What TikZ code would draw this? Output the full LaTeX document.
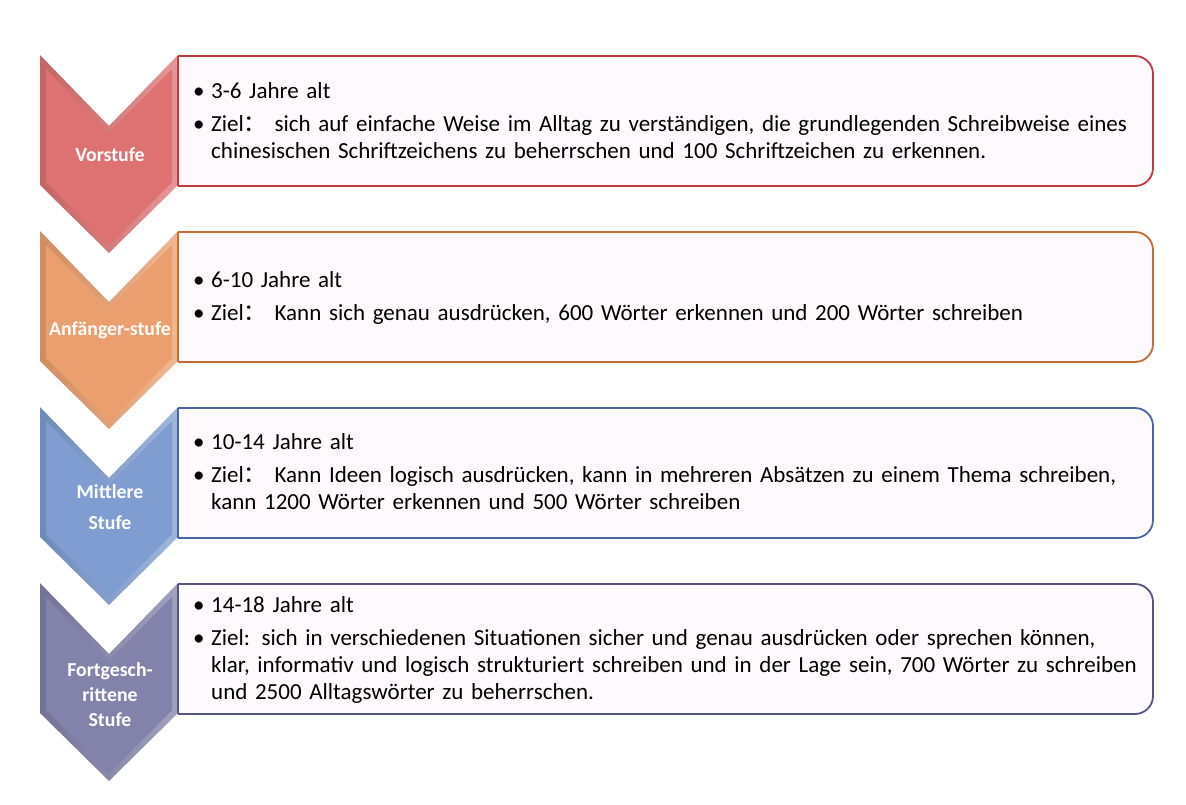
\documentclass[tikz,border=0pt]{standalone}
\usepackage{fontspec}
\setmainfont{Carlito}
\newfontfamily\cjk{Noto Sans CJK SC}

\definecolor{vorrot}{HTML}{DE7273}
\definecolor{vorrand}{HTML}{C0393F}
\definecolor{anforange}{HTML}{EC9F6E}
\definecolor{anfrand}{HTML}{C86B32}
\definecolor{mitblau}{HTML}{7F9DD1}
\definecolor{mitrand}{HTML}{4866A6}
\definecolor{fortlila}{HTML}{8282AA}
\definecolor{fortrand}{HTML}{555584}
\definecolor{boxgrund}{HTML}{FDF9FD}

% one bullet line with hanging indent
\newcommand\stpunkt[2][0pt]{\par\vspace{#1}\hangindent=18pt\hangafter=1\noindent
  \makebox[18pt][l]{\textbullet}#2\par}

\tikzset{
  stufetext/.style={text=white, align=center, inner sep=0pt,
    font=\fontsize{19.8}{#1}\selectfont\bfseries},
  zieltext/.style={anchor=west, text width=960pt, align=left, inner sep=0pt,
    font=\fontsize{23}{27}\selectfont},
}

\begin{document}
\begin{tikzpicture}[x=1pt, y=-1pt]

  \useasboundingbox (0,0) rectangle (1186,804);

  % Chevrons and boxes
  \foreach \yy/\col/\rand in {55/vorrot/vorrand, 231/anforange/anfrand,
                              407/mitblau/mitrand, 583/fortlila/fortrand} {
    \shade[left color=\col!88!black, right color=\col!75!white]
      (40,\yy) -- (109,\yy+71) -- (178,\yy) --
      (178,\yy+130) -- (109,\yy+198) -- (40,\yy+130) -- cycle;
    \fill[\col]
      (46,\yy+14) -- (109,\yy+78) -- (172,\yy+14) --
      (172,\yy+127) -- (109,\yy+191) -- (46,\yy+127) -- cycle;
    \fill[boxgrund, rounded corners=18pt]
      (178,\yy+1) -- (1153,\yy+1) -- (1153,\yy+131) -- (178,\yy+131);
    \draw[\rand, line width=1.8pt, rounded corners=18pt]
      (178,\yy+1) -- (1153,\yy+1) -- (1153,\yy+131) -- (178,\yy+131);
    \draw[\rand, line width=1.8pt] (178,\yy+1) -- (178,\yy+131);
  }

  % Stage labels
  \node[stufetext=25] (vorstufe) at (110,155) {Vorstufe};
  \node[stufetext=25] (anfaenger) at (110,330) {Anfänger-stufe};
  \node[stufetext=31] (mittlere) at (110,507) {Mittlere\\Stufe};
  \node[stufetext=25] (fortgeschritten) at (110,695) {Fortgesch-\\rittene\\Stufe};

  % Goals
  \node[zieltext] (ziel1) at (193,115) {%
    \stpunkt{3-6 Jahre alt}%
    \stpunkt[6pt]{Ziel{\cjk ：} sich auf einfache Weise im Alltag zu verständigen, die grundlegenden Schreibweise eines\newline
      chinesischen Schriftzeichens zu beherrschen und 100 Schriftzeichen zu erkennen.}};
  \node[zieltext] (ziel2) at (193,292) {%
    \stpunkt{6-10 Jahre alt}%
    \stpunkt[6pt]{Ziel{\cjk ：} Kann sich genau ausdrücken, 600 Wörter erkennen und 200 Wörter schreiben}};
  \node[zieltext] (ziel3) at (193,466) {%
    \stpunkt{10-14 Jahre alt}%
    \stpunkt[6pt]{Ziel{\cjk ：} Kann Ideen logisch ausdrücken, kann in mehreren Absätzen zu einem Thema schreiben,\newline
      kann 1200 Wörter erkennen und 500 Wörter schreiben}};
  \node[zieltext] (ziel4) at (193,644) {%
    \stpunkt{14-18 Jahre alt}%
    \stpunkt[6pt]{Ziel: sich in verschiedenen Situationen sicher und genau ausdrücken oder sprechen können,\newline
      klar, informativ und logisch strukturiert schreiben und in der Lage sein, 700 Wörter zu schreiben\newline
      und 2500 Alltagswörter zu beherrschen.}};

\end{tikzpicture}
\end{document}
